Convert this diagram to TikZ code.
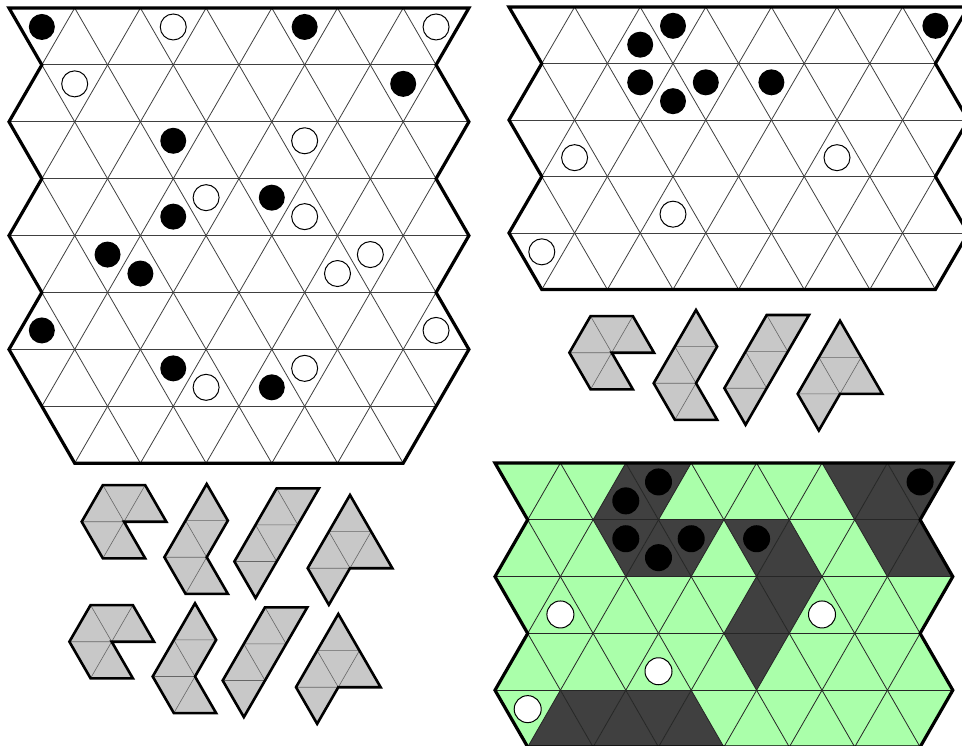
\documentclass[tikz,border=0pt]{standalone}
\usetikzlibrary{calc}

\definecolor{piecegray}{RGB}{200,200,200}
\definecolor{mint}{RGB}{170,255,170}
\definecolor{slate}{RGB}{64,64,64}

% board and piece outlines, in lattice units
\newcommand{\tallrim}{(0,0) -- (7,0) -- (6.5,1) -- (7,2) -- (6.5,3) -- (7,4) -- (6.5,5) -- (7,6) -- (6.5,7) -- (6,8) -- (1,8) -- (0.5,7) -- (0,6) -- (0.5,5) -- (0,4) -- (0.5,3) -- (0,2) -- (0.5,1) -- cycle}
\newcommand{\shortrim}{(0,0) -- (7,0) -- (6.5,1) -- (7,2) -- (6.5,3) -- (7,4) -- (6.5,5) -- (0.5,5) -- (0,4) -- (0.5,3) -- (0,2) -- (0.5,1) -- cycle}
\newcommand{\pacmanrim}{(-0.5,-1) -- (0.5,-1) -- (1,0) -- (0,0) -- (0.5,1) -- (-0.5,1) -- (-1,0) -- cycle}
\newcommand{\zigzagrim}{(0,0) -- (0.5,1) -- (0,2) -- (0.5,3) -- (-0.5,3) -- (-1,2) -- (-0.5,1) -- cycle}
\newcommand{\striprim}{(0,0) -- (1,0) -- (-0.5,3) -- (-1,2) -- cycle}
\newcommand{\flagrim}{(0,0) -- (1,2) -- (0,2) -- (-0.5,3) -- (-1,2) -- cycle}

\begin{document}
\begin{tikzpicture}[
    x=1pt, y=-1pt,
    cellline/.style={line width=0.8pt, black!75},
    rim/.style={draw=black, line width=3.2pt, line join=miter},
    bstone/.style={fill=black},
    wstone/.style={draw=black, line width=1pt, fill=white},
    tile/.style={x=42.3pt, y=-36.6pt},
    seam/.style={line width=0.6pt, black!60},
    piece/.style={draw=black, line width=2.6pt, line join=miter},
]
\useasboundingbox[fill=white] (0,0) rectangle (962,746);

% ============================ tall puzzle board =========================
\begin{scope}[shift={(9,8)}, x=65.7pt, y=-56.9pt]
  \begin{scope}
    \clip \tallrim;
    \foreach \r in {1,...,7} \draw[cellline] (-1,\r) -- (8,\r);
    \foreach \c in {-4,...,7} \draw[cellline] (\c,0) -- (\c+4,8);
    \foreach \c in {0,...,11} \draw[cellline] (\c,0) -- (\c-4,8);
  \end{scope}
  \draw[rim] \tallrim;
  % stones in down cells
  \foreach \a/\r in {0.5/0, 4.5/0, 6/1, 2.5/2, 4/3, 1.5/4, 2.5/6}
    \path[bstone] (\a,\r+1/3) circle[radius=13pt];
  \foreach \a/\r in {2.5/0, 6.5/0, 1/1, 4.5/2, 3/3, 5.5/4, 4.5/6}
    \path[wstone] (\a,\r+1/3) circle[radius=13pt];
  % stones in up cells
  \foreach \a/\r in {2.5/3, 2/4, 0.5/5, 4/6}
    \path[bstone] (\a,\r+2/3) circle[radius=13pt];
  \foreach \a/\r in {4.5/3, 5/4, 6.5/5, 3/6}
    \path[wstone] (\a,\r+2/3) circle[radius=13pt];
\end{scope}

% ============================ short puzzle board ========================
\begin{scope}[shift={(509,7)}, x=65.6pt, y=-56.5pt]
  \begin{scope}
    \clip \shortrim;
    \foreach \r in {1,...,4} \draw[cellline] (-1,\r) -- (8,\r);
    \foreach \c in {-3,...,7} \draw[cellline] (\c,0) -- (\c+2.5,5);
    \foreach \c in {0,...,10} \draw[cellline] (\c,0) -- (\c-2.5,5);
  \end{scope}
  \draw[rim] \shortrim;
  \foreach \a/\r in {2.5/0, 6.5/0, 2/1, 3/1, 4/1}
    \path[bstone] (\a,\r+1/3) circle[radius=13pt];
  \foreach \a/\r in {2/0, 2.5/1}
    \path[bstone] (\a,\r+2/3) circle[radius=13pt];
  \path[wstone] (0.5,4+1/3) circle[radius=13pt];
  \foreach \a/\r in {1/2, 2.5/3, 5/2}
    \path[wstone] (\a,\r+2/3) circle[radius=13pt];
\end{scope}

% ============================ solved board ==============================
\begin{scope}[shift={(495,463)}, x=65.4pt, y=-56.8pt]
  \fill[mint] \shortrim;
  % placed pieces
  \foreach \a/\r in {2/0, 6/0, 2.5/1, 4.5/1, 6.5/1, 4/2, 1/4, 2/4, 3/4}
    \fill[slate] (\a,\r) -- (\a-0.5,\r+1) -- (\a+0.5,\r+1) -- cycle;
  \foreach \a/\r in {2.5/0, 5.5/0, 6.5/0, 2/1, 3/1, 4/1, 6/1, 4.5/2, 4/3, 1.5/4, 2.5/4}
    \fill[slate] (\a-0.5,\r) -- (\a+0.5,\r) -- (\a,\r+1) -- cycle;
  \begin{scope}
    \clip \shortrim;
    \foreach \r in {1,...,4} \draw[cellline, black!85] (-1,\r) -- (8,\r);
    \foreach \c in {-3,...,7} \draw[cellline, black!85] (\c,0) -- (\c+2.5,5);
    \foreach \c in {0,...,10} \draw[cellline, black!85] (\c,0) -- (\c-2.5,5);
  \end{scope}
  \draw[rim] \shortrim;
  \foreach \a/\r in {2.5/0, 6.5/0, 2/1, 3/1, 4/1}
    \path[bstone] (\a,\r+1/3) circle[radius=13.5pt];
  \foreach \a/\r in {2/0, 2.5/1}
    \path[bstone] (\a,\r+2/3) circle[radius=13.5pt];
  \path[wstone] (0.5,4+1/3) circle[radius=13.5pt];
  \foreach \a/\r in {1/2, 2.5/3, 5/2}
    \path[wstone] (\a,\r+2/3) circle[radius=13.5pt];
\end{scope}

% ============================ piece sets ================================
% hexagon with a notch
\foreach \px/\py in {611.7/352.7, 124/521.7, 111.7/641.7} {
  \begin{scope}[shift={(\px,\py)}, tile]
    \fill[piecegray] \pacmanrim;
    \draw[seam] (-1,0) -- (0,0) (-0.5,-1) -- (0,0) -- (0.5,-1) (-0.5,1) -- (0,0);
    \draw[piece] \pacmanrim;
  \end{scope}
}
% zigzag
\foreach \px/\py in {696/310, 206.7/484, 195/603.3} {
  \begin{scope}[shift={(\px,\py)}, tile]
    \fill[piecegray] \zigzagrim;
    \draw[seam] (-0.5,1) -- (0.5,1) (-1,2) -- (0,2) (-0.5,1) -- (0,2) -- (-0.5,3);
    \draw[piece] \zigzagrim;
  \end{scope}
}
% slanted strip
\foreach \px/\py in {766.7/315, 276.7/488.3, 265/607.3} {
  \begin{scope}[shift={(\px,\py)}, tile]
    \fill[piecegray] \striprim;
    \draw[seam] (-0.5,1) -- (0.5,1) (-1,2) -- (0,2) (0,0) -- (0.5,1) (-0.5,1) -- (0,2);
    \draw[piece] \striprim;
  \end{scope}
}
% big triangle with a foot
\foreach \px/\py in {840/320.7, 350/495, 338.3/614} {
  \begin{scope}[shift={(\px,\py)}, tile]
    \fill[piecegray] \flagrim;
    \draw[seam] (-0.5,1) -- (0.5,1) (-1,2) -- (0,2) (-0.5,1) -- (0,2) -- (0.5,1);
    \draw[piece] \flagrim;
  \end{scope}
}

\end{tikzpicture}
\end{document}
